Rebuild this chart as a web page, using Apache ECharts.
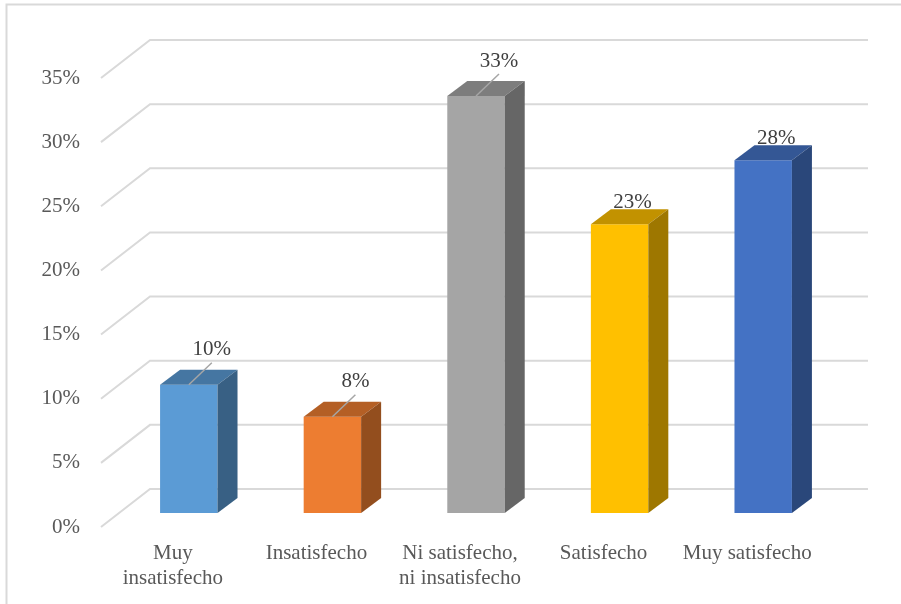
<!DOCTYPE html>
<html>
<head>
<meta charset="utf-8">
<script src="https://cdn.jsdelivr.net/npm/echarts@6/dist/echarts.min.js"></script>
<style>
  html, body { margin: 0; padding: 0; background: #fff; }
  #chart { width: 901px; height: 604px; }
</style>
</head>
<body>
<div id="chart"></div>
<script>
// datos
const categories = ['Muy\ninsatisfecho', 'Insatisfecho', 'Ni satisfecho,\nni insatisfecho', 'Satisfecho', 'Muy satisfecho'];
const values = [10, 7.5, 32.5, 22.5, 27.5];
const yTicks = [0, 5, 10, 15, 20, 25, 30, 35];
const barColors = ['#5B9BD5', '#ED7D31', '#A5A5A5', '#FFC000', '#4472C4'];
const withLeader = [true, true, true, false, false];

const FONT = 'Liberation Serif';
// profundidad de la "caja" 3D
const WALL_DX = 49, WALL_DY = -38;
const BAR_OFF_X = 16, BAR_OFF_Y = -14;
const BAR_DX = 20, BAR_DY = -15;

function shade(hex, f) {
  const n = parseInt(hex.slice(1), 16);
  const r = Math.round(((n >> 16) & 255) * f);
  const g = Math.round(((n >> 8) & 255) * f);
  const b = Math.round((n & 255) * f);
  return 'rgb(' + r + ',' + g + ',' + b + ')';
}

const chart = echarts.init(document.getElementById('chart'));

const option = {
  animation: false,
  grid: { left: 101, right: 82, top: 78, bottom: 77 },
  xAxis: {
    type: 'category',
    data: categories,
    axisLine: { show: false },
    axisTick: { show: false },
    axisLabel: {
      interval: 0,
      margin: 14,
      fontFamily: FONT,
      fontSize: 21,
      lineHeight: 25,
      color: '#595959'
    }
  },
  yAxis: {
    type: 'value',
    min: 0,
    max: 35,
    interval: 5,
    splitLine: { show: false },
    axisLine: { show: false },
    axisTick: { show: false },
    axisLabel: {
      formatter: '{value}%',
      margin: 21,
      fontFamily: FONT,
      fontSize: 21,
      color: '#595959'
    }
  },
  graphic: [
    { type: 'polyline', shape: { points: [[6.5, 604], [6.5, 4.5], [901, 4.5]] },
      style: { stroke: '#d9d9d9', lineWidth: 2, fill: null } }
  ],
  series: [
    {
      // lineas de la cuadricula en perspectiva
      type: 'custom',
      z: 1,
      silent: true,
      data: yTicks.map(v => [0, v]),
      renderItem: function (params, api) {
        const cs = params.coordSys;
        const y = api.coord([0, api.value(1)])[1];
        return {
          type: 'polyline',
          shape: { points: [[cs.x, y], [cs.x + WALL_DX, y + WALL_DY], [cs.x + cs.width + WALL_DX, y + WALL_DY]] },
          style: { stroke: '#d9d9d9', lineWidth: 2, fill: null }
        };
      }
    },
    {
      // barras 3D
      type: 'custom',
      z: 2,
      data: values.map((v, i) => [i, v]),
      renderItem: function (params, api) {
        const i = api.value(0);
        const v = api.value(1);
        const base = api.coord([i, 0]);
        const top = api.coord([i, v]);
        const w = api.size([1, 0])[0] * 0.4;
        const cx = base[0] + BAR_OFF_X;
        const yb = base[1] + BAR_OFF_Y;
        const yt = top[1] + BAR_OFF_Y;
        const l = cx - w / 2, r = cx + w / 2;
        const color = barColors[i];
        const label = Math.round(v) + '%';
        const children = [
          { type: 'rect', shape: { x: l, y: yt, width: w, height: yb - yt }, style: { fill: color } },
          { type: 'polygon', shape: { points: [[l, yt], [r, yt], [r + BAR_DX, yt + BAR_DY], [l + BAR_DX, yt + BAR_DY]] },
            style: { fill: shade(color, 0.76) } },
          { type: 'polygon', shape: { points: [[r, yt], [r + BAR_DX, yt + BAR_DY], [r + BAR_DX, yb + BAR_DY], [r, yb]] },
            style: { fill: shade(color, 0.62) } }
        ];
        if (withLeader[i]) {
          children.push({ type: 'line', shape: { x1: cx, y1: yt, x2: cx + 23, y2: yt - 22 },
            style: { stroke: '#a6a6a6', lineWidth: 1.5 } });
          children.push({ type: 'text', style: { x: cx + 23, y: yt - 35, text: label, align: 'center', verticalAlign: 'middle',
            font: '21px "' + FONT + '"', fill: '#404040' } });
        } else {
          children.push({ type: 'text', style: { x: cx + 13, y: yt - 22, text: label, align: 'center', verticalAlign: 'middle',
            font: '21px "' + FONT + '"', fill: '#404040' } });
        }
        return { type: 'group', children: children };
      }
    }
  ]
};

chart.setOption(option);
</script>
</body>
</html>
